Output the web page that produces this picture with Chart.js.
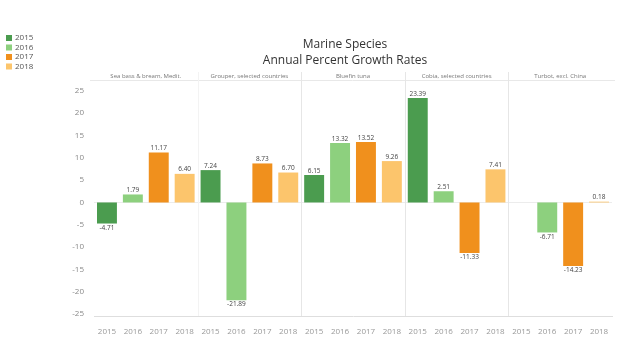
<!DOCTYPE html>
<html>
<head>
<meta charset="utf-8">
<script src="https://cdn.jsdelivr.net/npm/chart.js@4/dist/chart.umd.min.js"></script>
<style>
  html, body { margin: 0; padding: 0; background: #fff; }
  #wrap { width: 640px; height: 340px; position: relative; }
</style>
</head>
<body>
<div id="wrap"><canvas id="growthChart"></canvas></div>
<script>
const species = ['Sea bass & bream, Medit.', 'Grouper, selected countries', 'Bluefin tuna', 'Cobia, selected countries', 'Turbot, excl. China'];
const years = ['2015', '2016', '2017', '2018'];
const seaBass = [-4.71, 1.79, 11.17, 6.40];
const grouper = [7.24, -21.89, 8.73, 6.70];
const bluefin = [6.15, 13.32, 13.52, 9.26];
const cobia = [23.39, 2.51, -11.33, 7.41];
const turbot = [null, -6.71, -14.23, 0.18];
const yTicks = [-25, -20, -15, -10, -5, 0, 5, 10, 15, 20, 25];
const yearColors = ['#4b9c4f', '#8dd07e', '#f0901d', '#fcc56c'];

document.addEventListener('DOMContentLoaded', () => {

    const groups = [seaBass, grouper, bluefin, cobia, turbot];
    const labels = [];
    const values = [];
    const colors = [];
    groups.forEach(g => {
        g.forEach((v, i) => {
            labels.push(years[i]);
            values.push(v);
            colors.push(yearColors[i]);
        });
    });

    const decorPlugin = {
        id: 'decor',
        beforeDatasetsDraw(chart) {
            const ctx = chart.ctx;
            const area = chart.chartArea;
            const xs = chart.scales.x;
            const ys = chart.scales.y;
            ctx.save();
            // zero line
            ctx.strokeStyle = '#ececec';
            ctx.lineWidth = 1;
            const y0 = Math.round(ys.getPixelForValue(0)) + 0.5;
            ctx.beginPath();
            ctx.moveTo(area.left, y0);
            ctx.lineTo(area.right, y0);
            ctx.stroke();
            // header line
            ctx.strokeStyle = '#e8e8e8';
            ctx.beginPath();
            ctx.moveTo(90, area.top + 0.5);
            ctx.lineTo(area.right + 3, area.top + 0.5);
            ctx.stroke();
            // group separators
            for (let g = 1; g < species.length; g++) {
                const xa = xs.getPixelForValue(g * 4 - 1);
                const xb = xs.getPixelForValue(g * 4);
                const xm = Math.round((xa + xb) / 2) + 0.5;
                ctx.strokeStyle = g === 1 ? '#f3f3f3' : '#e6e6e6';
                ctx.beginPath();
                ctx.moveTo(xm, 72);
                ctx.lineTo(xm, area.bottom);
                ctx.stroke();
            }
            // group headers
            ctx.fillStyle = '#777';
            ctx.font = '6px "Open Sans", sans-serif';
            ctx.textAlign = 'center';
            ctx.textBaseline = 'middle';
            species.forEach((name, g) => {
                const xa = xs.getPixelForValue(g * 4);
                const xb = xs.getPixelForValue(g * 4 + 3);
                ctx.fillText(name, (xa + xb) / 2, 76);
            });
            ctx.restore();
        },
        afterDatasetsDraw(chart) {
            const ctx = chart.ctx;
            const meta = chart.getDatasetMeta(0);
            ctx.save();
            ctx.fillStyle = '#444';
            ctx.font = '6.5px "Open Sans", sans-serif';
            ctx.textAlign = 'center';
            meta.data.forEach((bar, i) => {
                const v = values[i];
                if (v === null) return;
                if (v >= 0) {
                    ctx.textBaseline = 'bottom';
                    ctx.fillText(v.toFixed(2), bar.x, bar.y - 1);
                } else {
                    ctx.textBaseline = 'top';
                    ctx.fillText(v.toFixed(2), bar.x, bar.y + 1);
                }
            });

            // title
            ctx.fillStyle = '#333';
            ctx.font = '12px "Open Sans", sans-serif';
            ctx.textBaseline = 'middle';
            ctx.fillText('Marine Species', 345, 45);
            ctx.fillText('Annual Percent Growth Rates', 345, 61);

            // legend
            ctx.textAlign = 'left';
            ctx.font = '8px "Open Sans", sans-serif';
            years.forEach((yr, i) => {
                const cy = 38 + i * 9.5;
                ctx.fillStyle = yearColors[i];
                ctx.fillRect(6, cy - 3, 6, 6);
                ctx.fillStyle = '#555';
                ctx.fillText(yr, 15, cy);
            });
            ctx.restore();
        }
    };

    const ctxGrowth = document.getElementById('growthChart').getContext('2d');
    new Chart(ctxGrowth, {
        type: 'bar',
        data: {
            labels: labels,
            datasets: [{
                label: 'Growth rate',
                data: values,
                backgroundColor: colors,
                borderWidth: 0,
                categoryPercentage: 1,
                barPercentage: 0.77
            }]
        },
        options: {
            responsive: true,
            maintainAspectRatio: false,
            animation: false,
            layout: { padding: { top: 80, right: 28, left: 0, bottom: 0 } },
            plugins: {
                legend: { display: false },
                tooltip: { enabled: false }
            },
            scales: {
                y: {
                    min: -25.4,
                    max: 27.4,
                    afterBuildTicks: (scale) => { scale.ticks = yTicks.map(v => ({ value: v })); },
                    afterFit: (scale) => { scale.width = 94; },
                    grid: { display: false },
                    border: { display: false },
                    ticks: { color: '#888', font: { size: 8, family: 'Open Sans' }, padding: 2 }
                },
                x: {
                    afterFit: (scale) => { scale.height = 24; },
                    grid: { display: false },
                    border: { display: true, color: '#dedede' },
                    ticks: { color: '#999', font: { size: 8, family: 'Open Sans' }, padding: 3, maxRotation: 0, autoSkip: false }
                }
            }
        },
        plugins: [decorPlugin]
    });
});
</script>
</body>
</html>
